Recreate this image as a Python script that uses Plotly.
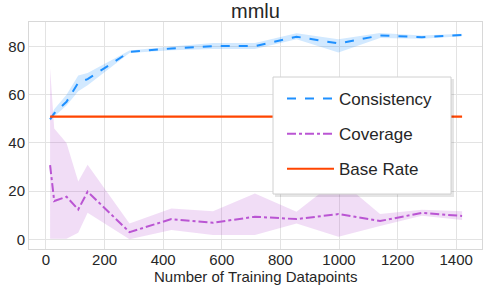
import plotly.graph_objects as go

train_sizes = [14, 28, 70, 110, 142, 285, 428, 570, 713, 855, 998, 1140, 1283, 1420]
consistency = [49.8, 52.3, 57.1, 65.0, 66.5, 77.8, 79.2, 80.2, 80.2, 84.1, 81.3, 84.6, 83.9, 84.8]
consistency_lo = [49.2, 51.0, 55.5, 61.5, 64.0, 77.3, 78.5, 79.0, 79.0, 83.0, 77.5, 83.6, 83.3, 84.3]
consistency_hi = [50.4, 54.0, 60.0, 68.0, 69.0, 78.4, 80.0, 81.5, 81.5, 85.5, 83.0, 85.6, 84.6, 85.3]
coverage = [30.8, 15.9, 17.7, 12.4, 19.8, 3.0, 8.4, 6.9, 9.4, 8.4, 10.5, 7.6, 11.0, 9.7]
coverage_lo = [0.3, 0.3, 0.3, 2.7, 11.0, 0.0, 3.9, 1.8, 1.8, 6.6, 1.1, 5.5, 9.8, 8.0]
coverage_hi = [71.0, 46.0, 40.0, 24.0, 31.0, 6.6, 12.8, 11.7, 19.0, 11.5, 25.0, 10.5, 12.3, 11.7]
base_rate = 50.9

x_ticks = [0, 200, 400, 600, 800, 1000, 1200, 1400]
y_ticks = [0, 20, 40, 60, 80]

BLUE = "#1E90FF"
PURPLE = "#BA55D3"
ORANGE = "#FF4500"

fig = go.Figure()

# bands
fig.add_trace(go.Scatter(x=train_sizes + train_sizes[::-1], y=consistency_hi + consistency_lo[::-1],
                         fill="toself", fillcolor="rgba(30,144,255,0.2)", line=dict(width=0),
                         showlegend=False, hoverinfo="skip"))
fig.add_trace(go.Scatter(x=train_sizes + train_sizes[::-1], y=coverage_hi + coverage_lo[::-1],
                         fill="toself", fillcolor="rgba(186,85,211,0.2)", line=dict(width=0),
                         showlegend=False, hoverinfo="skip"))

fig.add_trace(go.Scatter(x=train_sizes, y=consistency, mode="lines", name="Consistency",
                         line=dict(color=BLUE, width=2, dash="dash"), legendgroup="a"))
fig.add_trace(go.Scatter(x=train_sizes, y=coverage, mode="lines", name="Coverage",
                         line=dict(color=PURPLE, width=2, dash="dashdot"), legendgroup="b"))
fig.add_trace(go.Scatter(x=[train_sizes[0], train_sizes[-1]], y=[base_rate, base_rate], mode="lines",
                         name="Base Rate", line=dict(color=ORANGE, width=2.2), legendgroup="c"))

# body margin is removed by post_script, so figure == page
W, H = 488, 285
PL, PR, PT, PB = 29, 482, 22, 249  # plot area in page pixels
L, T, R, B = PL, PT, W - PR, H - PB
pw, ph = PR - PL, PB - PT

def px(x):
    return (x - PL) / pw

def py(y):
    return (PB - y) / ph

# legend frame + shadow
fig.add_shape(type="rect", xref="paper", yref="paper",
              x0=px(275), x1=px(454), y0=py(197), y1=py(79),
              fillcolor="rgba(0,0,0,0.10)", line=dict(width=0), layer="above")
fig.add_shape(type="rect", xref="paper", yref="paper",
              x0=px(273), x1=px(451), y0=py(194), y1=py(77),
              fillcolor="white", line=dict(color="#d0d0d0", width=1), layer="above")

fig.add_annotation(text="Number of Training Datapoints", xref="paper", yref="paper",
                   x=0.5, y=py(276), xanchor="center", yanchor="middle", showarrow=False,
                   font=dict(size=15, color="#262626"))

fig.update_layout(
    width=W, height=H,
    margin=dict(l=L, r=R, t=T, b=B, pad=0, autoexpand=False),
    paper_bgcolor="white", plot_bgcolor="white",
    font=dict(family="Arial, Liberation Sans, sans-serif", color="#262626", size=15),
    title=dict(text="mmlu", x=(PL + PR) / 2 / W, xanchor="center",
               y=1 - 11 / H, yanchor="middle",
               font=dict(size=20, color="#262626")),
    legend=dict(x=px(282), y=py(81), xanchor="left", yanchor="top",
                bgcolor="rgba(0,0,0,0)", borderwidth=0,
                font=dict(size=17, color="#262626"), tracegroupgap=10, itemwidth=47),
    xaxis=dict(range=[-58, 1488], tickvals=x_ticks, showgrid=True, gridcolor="#e3e3e3", gridwidth=1,
               showline=True, linecolor="#d8d8d8", mirror=True, zeroline=False, ticks="",
               automargin=False, tickfont=dict(size=15), ticklabelstandoff=-3),
    yaxis=dict(range=[-4, 90.2], tickvals=y_ticks, showgrid=True, gridcolor="#e3e3e3", gridwidth=1,
               showline=True, linecolor="#d8d8d8", mirror=True, zeroline=False, ticks="",
               automargin=False, tickfont=dict(size=15)),
)

fig.write_html("out.html", config={"displayModeBar": False},
               post_script="document.body.style.margin='0';")
